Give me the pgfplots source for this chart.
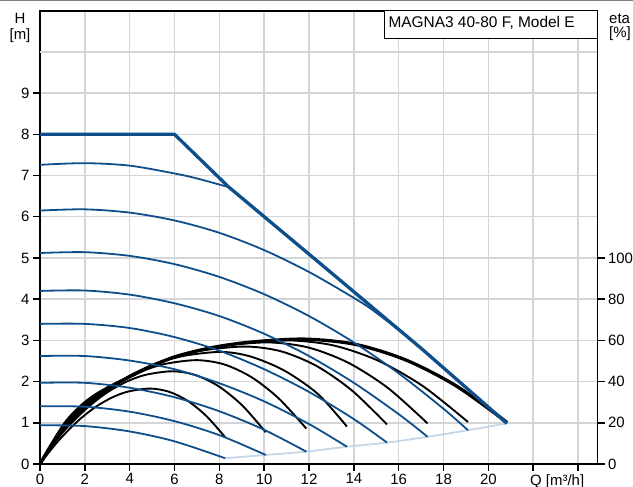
\documentclass[border=0pt]{standalone}
\usepackage{pgfplots}
\pgfplotsset{compat=1.18}
\usepackage{fontspec}
\setmainfont{Liberation Sans}

\definecolor{curveblue}{RGB}{14,78,138}
\definecolor{endblue}{RGB}{196,214,232}
\definecolor{gridgray}{RGB}{210,213,217}

\pgfplotsset{
  speed/.style={curveblue, line width=1.8bp, smooth},
  eff/.style={black, line width=1.9bp, smooth, y filter/.expression={y/20}},
  frame/.style={
    at={(40bp,23bp)}, anchor=south west,
    scale only axis, width=557.5bp, height=453.3bp,
    xmin=0, xmax=24.87,
    tick align=outside, major tick length=7bp,
    tick style={black, line width=1.5bp},
    axis line style={black, line width=1.8bp},
    ticklabel style={font=\fontsize{15}{18}\selectfont},
  },
}

\begin{document}
\begin{tikzpicture}
\useasboundingbox (0,0) rectangle (633bp,487bp);

\begin{axis}[frame,
  ymin=0, ymax=11,
  xtick={0,2,...,24},
  xticklabels={0,2,4,6,8,10,12,14,16,18,20,{},{}},
  ytick={0,1,...,9},
  yticklabels={0,1,2,3,4,5,6,7,8,9},
  extra y ticks={10}, extra y tick labels={{}},
  extra y tick style={grid=major, major tick length=0pt},
  xtick pos=left, ytick pos=left,
  grid=major, grid style={gridgray, line width=1.5bp},
  xticklabel style={inner sep=2.5bp},
]
% end-of-curve line (minimum)
\addplot[endblue, line width=1.8bp, smooth] coordinates {
  (8.26,0.14) (10.07,0.22) (11.88,0.30) (13.69,0.42) (15.48,0.52)
  (17.29,0.66) (19.09,0.82) (20.83,0.985)};

% efficiency curves, eta in %
\addplot[eff] coordinates {(0,0) (0.49,6.96) (0.98,13.18) (1.715,21.14) (2.45,27.46) (3.185,32.12) (3.92,35.14) (4.9,36.6) (5.74,35.12) (6.58,30.7) (7.42,23.32) (8.26,13.0)};
\addplot[eff] coordinates {(0,0) (0.59,9.52) (1.18,17.36) (2.065,26.84) (2.95,34.4) (3.835,39.84) (4.72,43.3) (5.9,45.0) (6.94,43.16) (7.985,37.6) (9.03,28.36) (10.07,15.4)};
\addplot[eff] coordinates {(0,0) (0.7,11.76) (1.4,20.72) (2.45,31.02) (3.5,39.26) (4.55,45.02) (5.6,48.62) (7.0,50.4) (8.22,48.32) (9.44,42.1) (10.66,31.72) (11.88,17.2)};
\addplot[eff] coordinates {(0,0) (0.81,13.86) (1.62,23.76) (2.835,34.54) (4.05,43.16) (5.265,49.0) (6.48,52.62) (8.1,54.4) (9.4,52.14) (10.895,45.36) (12.39,34.04) (13.69,18.2)};
\addplot[eff] coordinates {(0,0) (0.92,15.74) (1.84,26.34) (3.22,37.26) (4.6,46.04) (5.98,51.8) (7.36,55.28) (9.2,57.0) (10.77,54.64) (12.34,47.56) (13.91,35.74) (15.48,19.2)};
\addplot[eff] coordinates {(0,0) (1.02,17.58) (2.04,28.78) (3.57,39.7) (5.1,48.5) (6.63,54.06) (8.16,57.36) (10.2,59.0) (11.97,56.54) (13.745,49.18) (15.52,36.9) (17.29,19.7)};
\addplot[eff] coordinates {(0,0) (1.11,19.16) (2.22,30.8) (3.885,41.52) (5.55,50.2) (7.215,55.46) (8.88,58.48) (11.1,60.0) (13.1,57.52) (15.095,50.1) (17.09,37.72) (19.09,20.4)};
\addplot[eff, line width=3.3bp] coordinates {(0,0) (1.18,20.66) (2.36,32.66) (4.13,43.08) (5.9,51.58) (7.67,56.48) (9.44,59.2) (11.8,60.6) (14.06,58.08) (16.315,50.5) (18.57,37.88) (20.83,20.2)};

% speed curves, H in m
\addplot[speed] coordinates {(0,0.94) (2,0.92) (4,0.79) (6,0.55) (8.26,0.14)};
\addplot[speed] coordinates {(0,1.40) (2,1.39) (4,1.27) (6,1.04) (8,0.70) (10.07,0.22)};
\addplot[speed] coordinates {(0,1.97) (2,1.97) (4,1.85) (6,1.62) (8,1.28) (10,0.83) (11.88,0.30)};
\addplot[speed] coordinates {(0,2.62) (2,2.62) (4,2.51) (6,2.30) (8,1.96) (10,1.52) (12,0.97) (13.69,0.42)};
\addplot[speed] coordinates {(0,3.40) (2,3.40) (4,3.30) (6,3.08) (8,2.75) (10,2.30) (12,1.75) (14,1.09) (15.48,0.52)};
\addplot[speed] coordinates {(0,4.20) (2,4.21) (4,4.11) (6,3.90) (8,3.59) (10,3.16) (12,2.62) (14,1.97) (16,1.21) (17.29,0.66)};
\addplot[speed] coordinates {(0,5.12) (2,5.14) (4,5.05) (6,4.85) (8,4.54) (10,4.12) (12,3.59) (14,2.95) (16,2.20) (18,1.34) (19.09,0.82)};
\addplot[speed] coordinates {(0,6.15) (2,6.18) (4,6.10) (6,5.91) (8,5.61) (10,5.19) (12,4.66) (14,4.03) (15,3.67) (17.04,2.79) (20.83,0.985)};
\addplot[speed] coordinates {(0,7.26) (2,7.30) (4,7.24) (6,7.05) (7,6.93) (8.4,6.72)};
% max curve
\addplot[curveblue, line width=3.3bp, line join=round] coordinates {
  (0,8) (6,8) (8.4,6.73) (12.95,4.66) (17.04,2.79) (20.83,0.985)};
\end{axis}

% right efficiency axis
\begin{axis}[frame,
  ymin=0, ymax=220,
  axis x line=none, axis y line*=right,
  ytick={0,20,...,100},
  yticklabels={0,20,40,60,80,100},
]
\end{axis}

% title box
\draw[black, line width=1bp, fill=white] (384bp,448.7bp) rectangle (597.5bp,476.3bp);
\node[anchor=base west, inner sep=0pt, font=\fontsize{15.5}{18}\selectfont] at (388.3bp,459.7bp) {MAGNA3 40-80 F, Model E};

% axis names
\node[anchor=base, inner sep=0pt, font=\fontsize{15}{18}\selectfont] at (20bp,463.7bp) {H};
\node[anchor=base, inner sep=0pt, font=\fontsize{15}{18}\selectfont] at (20bp,447bp) {[m]};
\node[anchor=base west, inner sep=0pt, font=\fontsize{15}{18}\selectfont] at (609bp,463.7bp) {eta};
\node[anchor=base west, inner sep=0pt, font=\fontsize{15}{18}\selectfont] at (609bp,449.7bp) {[\%]};
\node[anchor=base west, inner sep=0pt, font=\fontsize{15}{18}\selectfont] at (530bp,2bp) {Q [m³/h]};

\draw[gray, line width=1bp] (0,486.5bp) -- (633bp,486.5bp);
\end{tikzpicture}
\end{document}
